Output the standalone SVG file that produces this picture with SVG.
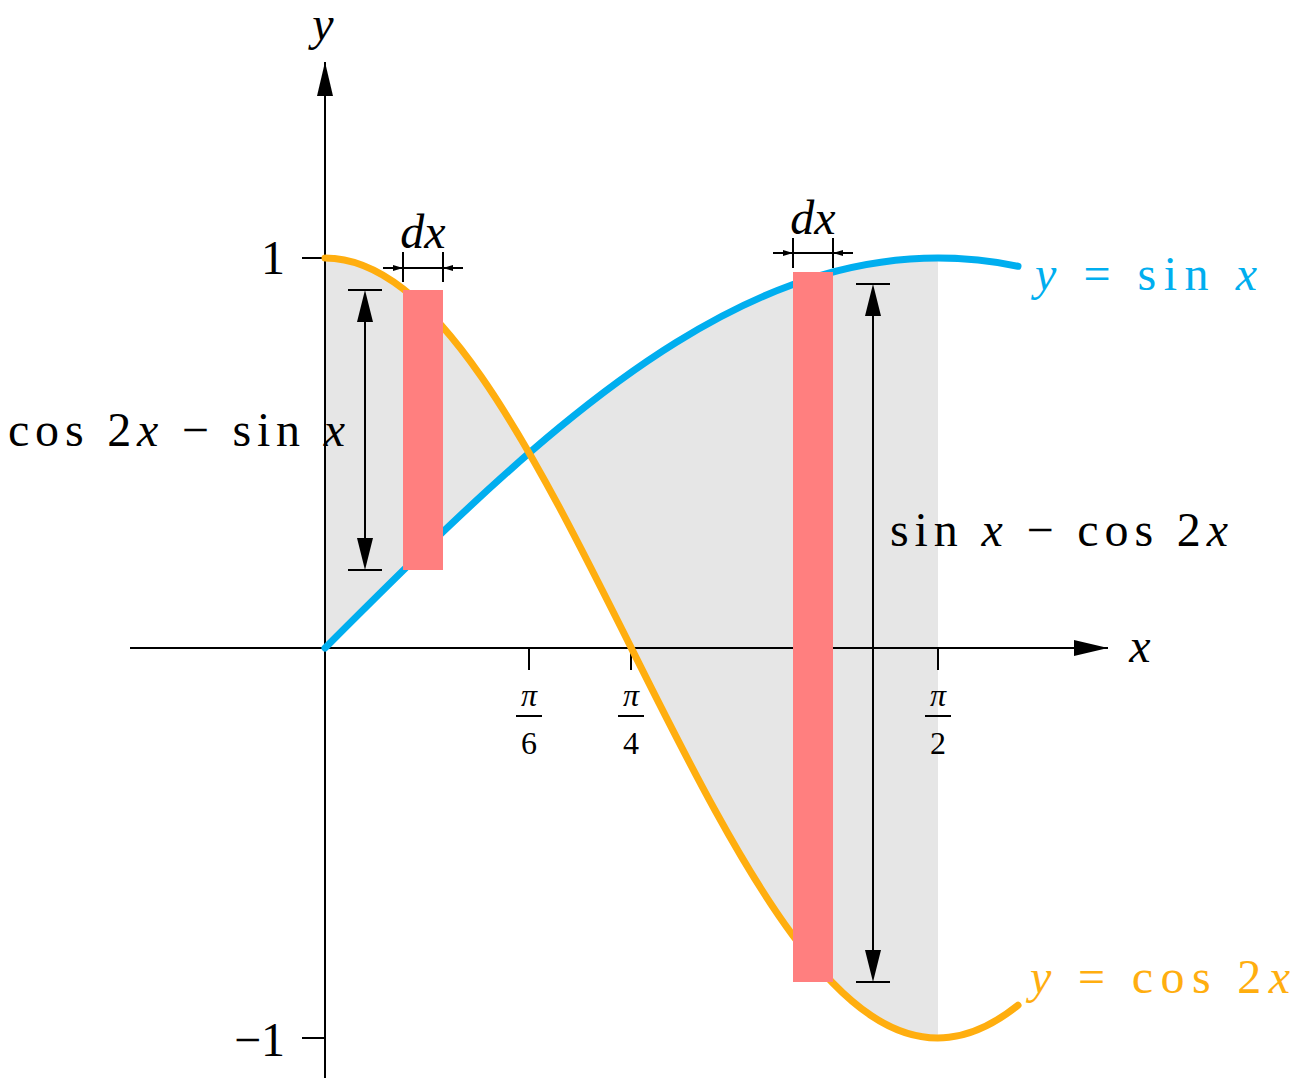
<svg xmlns="http://www.w3.org/2000/svg" width="1299" height="1078" viewBox="0 0 1299 1078">
<style>
.t{font-family:"Liberation Serif","DejaVu Serif",serif;font-size:48px;fill:#000}
.i{font-style:italic}
.f{font-family:"Liberation Serif","DejaVu Serif",serif;font-size:32px}
.ax{stroke:#000;stroke-width:2;fill:none}
</style>
<defs>
<clipPath id="c"><rect x="325" y="0" width="613" height="1078"/></clipPath>
<marker id="ah" viewBox="0 0 10 10" refX="10" refY="5" markerWidth="10" markerHeight="10" markerUnits="userSpaceOnUse" orient="auto-start-reverse"><path d="M0,2 L10,5 L0,8 Z"/></marker>
<marker id="big" viewBox="0 0 34 16" refX="34" refY="8" markerWidth="34" markerHeight="16" markerUnits="userSpaceOnUse" orient="auto-start-reverse"><path d="M0,0 L34,8 L0,16 Z"/></marker>
</defs>
<g id="shade">
<path clip-path="url(#c)" fill="#e6e6e6" d="M325,258 C351,258 377,268.6 403,288.8 C429,309 455,339 481,376.3 C507,413.6 533,458.2 559,506.7 C585,555.2 611,607.4 637,659.4 C663,711.4 689,763 715,810.3 C741,857.6 767,900.5 793,935.6 C819,970.7 845,998.1 871,1015.5 C897,1032.9 923,1040.3 949,1037.3 C972,1034.6 995,1023.7 1018,1005.3 L1018,266.2 C982,258.8 946,256.5 910,259 C871,261.8 832,270.4 793,284.5 C754,298.6 715,318.3 676,342.5 C637,366.7 598,395.6 559,427.8 C520,460 481,495.5 442,532.8 C403,570.1 364,609 325,648 Z"/>
</g>
<g id="axes">
<line class="ax" x1="130" y1="648" x2="1108" y2="648" marker-end="url(#big)"/>
<line class="ax" x1="325" y1="1078" x2="325" y2="62" marker-end="url(#big)"/>
<path class="ax" d="M302,258H325M302,1038H325M529,648V670M631,648V670M938,648V670"/>
</g>
<g id="curves" fill="none" stroke-width="7" stroke-linecap="round">
<path stroke="#00aeef" d="M325,648 C364,609 403,570.1 442,532.8 C481,495.5 520,460 559,427.8 C598,395.6 637,366.7 676,342.5 C715,318.3 754,298.6 793,284.5 C832,270.4 871,261.8 910,259 C946,256.5 982,258.8 1018,266.2"/>
<path stroke="#ffae0f" d="M325,258 C351,258 377,268.6 403,288.8 C429,309 455,339 481,376.3 C507,413.6 533,458.2 559,506.7 C585,555.2 611,607.4 637,659.4 C663,711.4 689,763 715,810.3 C741,857.6 767,900.5 793,935.6 C819,970.7 845,998.1 871,1015.5 C897,1032.9 923,1040.3 949,1037.3 C972,1034.6 995,1023.7 1018,1005.3"/>
</g>
<g id="strips" fill="#ff7f7f">
<rect x="403" y="290" width="40" height="280"/>
<rect x="793" y="272" width="40" height="710"/>
</g>
<g id="connectors" class="ax">
<line x1="365" y1="320" x2="365" y2="540"/>
<path d="M357,322 L365,290 L373,322 Z M357,538 L365,570 L373,538 Z" fill="#000" stroke="none"/>
<path d="M348,290H382M348,570H382"/>
<line x1="873" y1="314" x2="873" y2="952"/>
<path d="M865,316 L873,284 L881,316 Z M865,950 L873,982 L881,950 Z" fill="#000" stroke="none"/>
<path d="M856,284H890M856,982H890"/>
<path d="M403,252V282M443,252V282M403,268H443"/>
<line x1="383" y1="268" x2="403" y2="268" marker-end="url(#ah)"/>
<line x1="463" y1="268" x2="443" y2="268" marker-end="url(#ah)"/>
<path d="M793,238V268M833,238V268M793,253H833"/>
<line x1="773" y1="253" x2="793" y2="253" marker-end="url(#ah)"/>
<line x1="853" y1="253" x2="833" y2="253" marker-end="url(#ah)"/>
</g>
<g id="labels">
<text class="t i" x="323" y="40" text-anchor="middle">y</text>
<text class="t i" x="1140" y="662" text-anchor="middle">x</text>
<text class="t" x="285" y="274" text-anchor="end">1</text>
<text class="t" x="285" y="1056" text-anchor="end">−1</text>
<g class="f" text-anchor="middle">
<text x="529" y="706" font-style="italic">π</text><line x1="516" y1="716" x2="542" y2="716" stroke="#000" stroke-width="2"/><text x="529" y="754">6</text>
<text x="631" y="706" font-style="italic">π</text><line x1="618" y1="716" x2="644" y2="716" stroke="#000" stroke-width="2"/><text x="631" y="754">4</text>
<text x="938" y="706" font-style="italic">π</text><line x1="925" y1="716" x2="951" y2="716" stroke="#000" stroke-width="2"/><text x="938" y="754">2</text>
</g>
<text class="t i" x="423" y="248" text-anchor="middle">dx</text>
<text class="t i" x="813" y="234" text-anchor="middle">dx</text>
<text class="t" x="8" y="446" textLength="337" lengthAdjust="spacing">cos 2<tspan font-style="italic">x</tspan> − sin <tspan font-style="italic">x</tspan></text>
<text class="t" x="890" y="546" textLength="338" lengthAdjust="spacing">sin <tspan font-style="italic">x</tspan> − cos 2<tspan font-style="italic">x</tspan></text>
<text class="t" x="1035" y="290" textLength="222" lengthAdjust="spacing" style="fill:#00aeef"><tspan font-style="italic">y</tspan> = sin <tspan font-style="italic">x</tspan></text>
<text class="t" x="1030" y="993" textLength="260" lengthAdjust="spacing" style="fill:#ffae0f"><tspan font-style="italic">y</tspan> = cos 2<tspan font-style="italic">x</tspan></text>
</g>
</svg>
